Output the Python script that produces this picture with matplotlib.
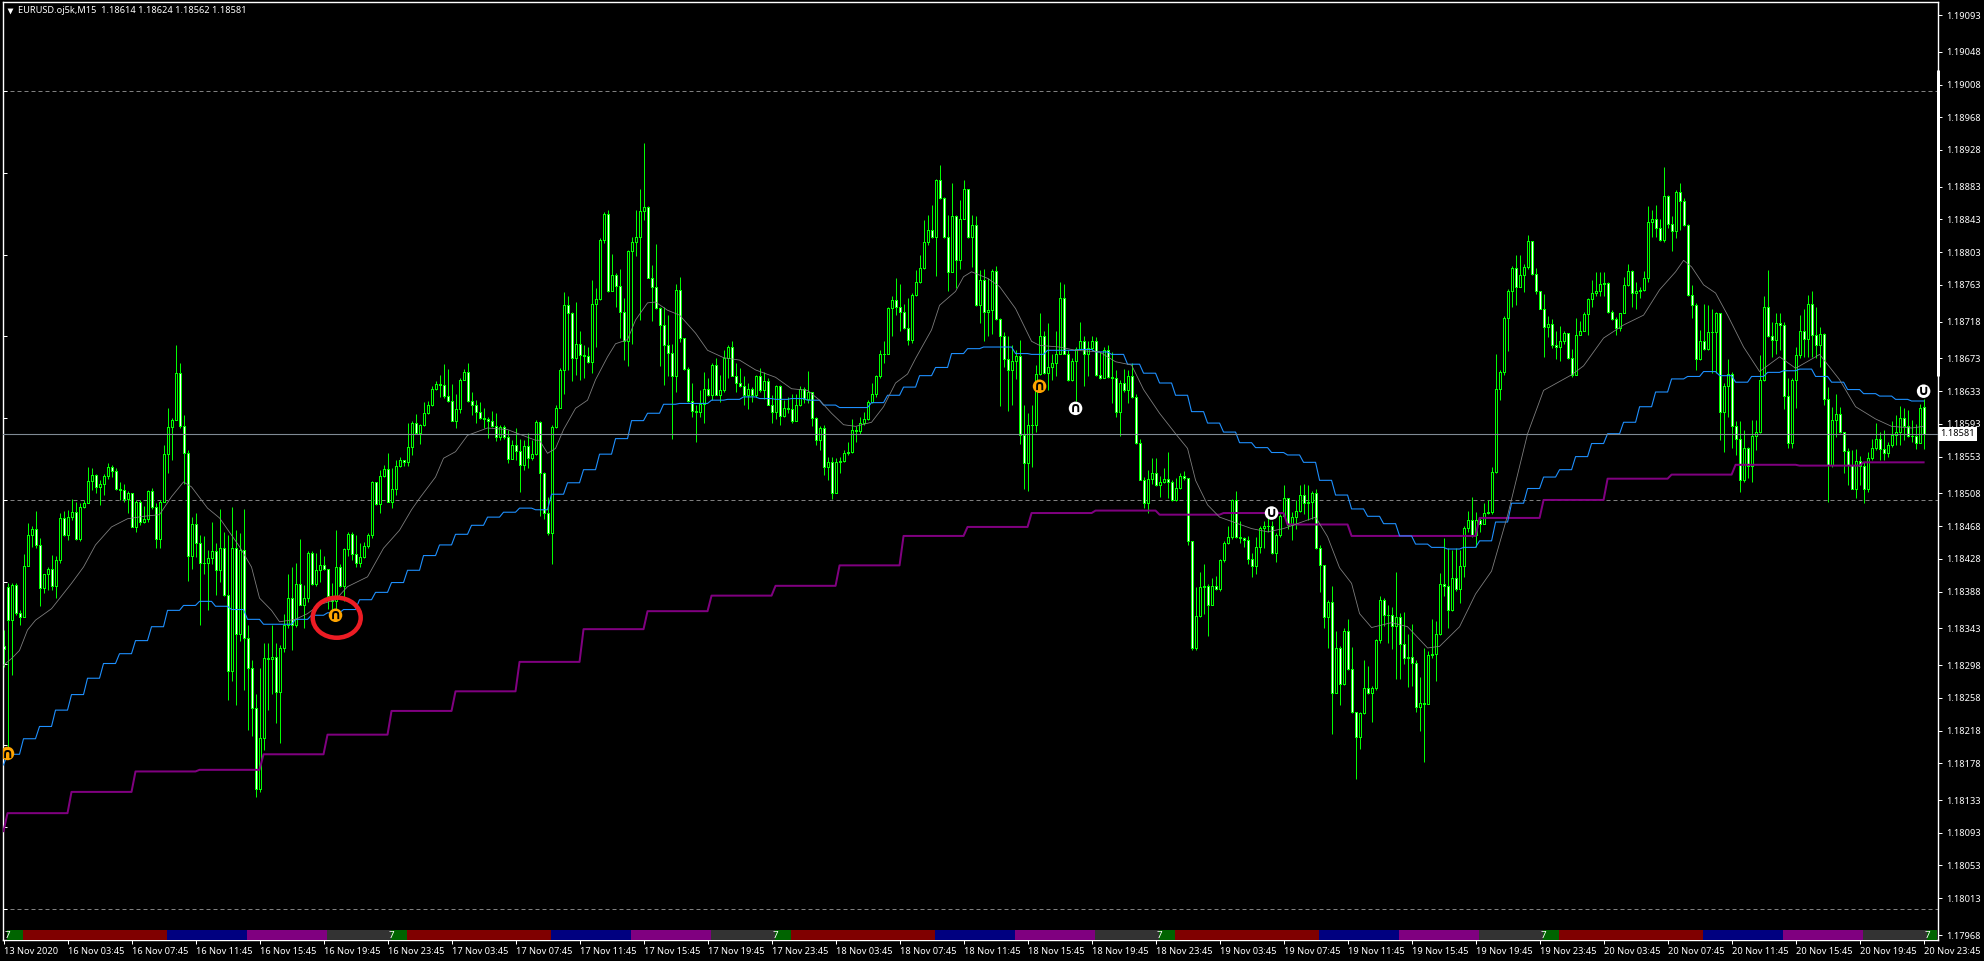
# plot.py - EURUSD M15 chart, values are points above 1.18000

import matplotlib
matplotlib.use("Agg")
import matplotlib.pyplot as plt
import numpy as np
from matplotlib.patches import Ellipse

opens = [
    322, 393, 353, 396, 362, 357, 419, 457, 465, 445,
    392, 409, 416, 395, 427, 478, 457, 479, 485, 452,
    491, 496, 523, 531, 516, 520, 529, 540, 535, 514,
    512, 501, 509, 467, 497, 473, 477, 511, 491, 452,
    497, 556, 589, 598, 655, 590, 558, 431, 471, 447,
    423, 423, 429, 438, 414, 441, 384, 291, 441, 336,
    439, 331, 294, 246, 147, 209, 307, 306, 308, 265,
    319, 347, 380, 347, 397, 371, 380, 435, 397, 414,
    421, 416, 383, 376, 418, 395, 440, 458, 434, 423,
    430, 444, 457, 522, 495, 529, 538, 498, 514, 542,
    549, 546, 565, 594, 582, 592, 606, 616, 636, 642,
    640, 627, 621, 597, 611, 647, 657, 621, 616, 607,
    600, 599, 596, 590, 577, 589, 577, 550, 567, 560,
    543, 566, 551, 556, 595, 533, 484, 460, 589, 613,
    659, 738, 728, 674, 691, 677, 676, 669, 740, 746,
    818, 850, 755, 775, 762, 730, 694, 804, 815, 821,
    853, 858, 772, 760, 735, 714, 689, 680, 652, 757,
    698, 660, 621, 609, 607, 617, 636, 628, 665, 628,
    634, 674, 687, 652, 643, 639, 628, 636, 628, 651,
    634, 645, 616, 607, 639, 603, 613, 611, 597, 616,
    636, 624, 632, 600, 573, 588, 540, 546, 509, 546,
    548, 557, 559, 586, 584, 594, 599, 620, 629, 651,
    678, 679, 735, 745, 736, 730, 710, 695, 751, 766,
    784, 815, 830, 821, 891, 869, 821, 779, 847, 793,
    844, 880, 821, 836, 738, 769, 730, 732, 780, 721,
    700, 672, 659, 670, 676, 580, 545, 592, 592, 654,
    701, 655, 662, 668, 679, 747, 678, 647, 670, 685,
    694, 679, 686, 694, 653, 649, 683, 650, 649, 608,
    643, 634, 651, 626, 570, 525, 496, 526, 533, 518,
    522, 526, 522, 500, 515, 529, 527, 450, 319, 358,
    394, 395, 371, 395, 391, 426, 447, 455, 500, 455,
    453, 451, 428, 419, 443, 466, 468, 468, 435, 457,
    480, 502, 469, 479, 486, 506, 496, 497, 508, 441,
    420, 357, 375, 264, 319, 275, 340, 293, 241, 210,
    240, 270, 264, 270, 329, 378, 359, 359, 346, 357,
    324, 307, 308, 301, 247, 252, 251, 310, 312, 336,
    397, 395, 366, 405, 391, 419, 466, 475, 457, 476,
    470, 484, 485, 534, 636, 656, 723, 755, 784, 761,
    775, 785, 817, 776, 755, 733, 711, 715, 689, 687,
    694, 704, 674, 653, 702, 707, 727, 746, 753, 756,
    764, 765, 730, 721, 710, 728, 763, 780, 753, 755,
    757, 771, 840, 844, 833, 818, 872, 838, 829, 877,
    865, 836, 751, 738, 672, 694, 684, 705, 705, 729,
    608, 639, 654, 590, 574, 524, 563, 541, 578, 583,
    647, 736, 700, 696, 716, 714, 627, 570, 647, 677,
    706, 697, 740, 702, 689, 703, 623, 543, 598, 605,
    583, 560, 543, 514, 548, 541, 513, 551, 563, 574,
    562, 557, 567, 580, 583, 600, 590, 578, 578, 570,
    614,
]
closes = [
    318, 353, 396, 362, 357, 419, 457, 465, 445, 392,
    409, 416, 395, 427, 478, 457, 479, 485, 452, 491,
    496, 523, 531, 516, 520, 529, 540, 535, 514, 512,
    501, 509, 467, 497, 473, 477, 511, 491, 452, 497,
    556, 589, 598, 655, 590, 558, 431, 471, 447, 423,
    423, 429, 438, 414, 441, 384, 291, 441, 336, 439,
    331, 294, 246, 147, 209, 307, 306, 308, 265, 319,
    347, 380, 347, 397, 371, 380, 435, 397, 414, 421,
    416, 383, 376, 418, 395, 440, 458, 434, 423, 430,
    444, 457, 522, 495, 529, 538, 498, 514, 542, 549,
    546, 565, 594, 582, 592, 606, 616, 636, 642, 640,
    627, 621, 597, 611, 647, 657, 621, 616, 607, 600,
    599, 596, 590, 577, 589, 577, 550, 567, 560, 543,
    566, 551, 556, 595, 533, 484, 460, 589, 613, 659,
    738, 728, 674, 691, 677, 676, 669, 740, 746, 818,
    850, 755, 775, 762, 730, 694, 804, 815, 821, 853,
    858, 772, 760, 735, 714, 689, 680, 652, 757, 698,
    660, 621, 609, 607, 617, 636, 628, 665, 628, 634,
    674, 687, 652, 643, 639, 628, 636, 628, 651, 634,
    645, 616, 607, 639, 603, 613, 611, 597, 616, 636,
    624, 632, 600, 573, 588, 540, 546, 509, 546, 548,
    557, 559, 586, 584, 594, 599, 620, 629, 651, 678,
    679, 735, 745, 736, 730, 710, 695, 751, 766, 784,
    815, 830, 821, 891, 869, 821, 779, 847, 793, 844,
    880, 821, 836, 738, 769, 730, 732, 780, 721, 700,
    672, 659, 670, 676, 580, 545, 592, 592, 654, 701,
    655, 662, 668, 679, 747, 678, 647, 670, 685, 694,
    679, 686, 694, 653, 649, 683, 650, 649, 608, 643,
    634, 651, 626, 570, 525, 496, 526, 533, 518, 522,
    526, 522, 500, 515, 529, 527, 450, 319, 358, 394,
    395, 371, 395, 391, 426, 447, 455, 500, 455, 453,
    451, 428, 419, 443, 466, 468, 468, 435, 457, 480,
    502, 469, 479, 486, 506, 496, 497, 508, 441, 420,
    357, 375, 264, 319, 275, 340, 293, 241, 210, 240,
    270, 264, 270, 329, 378, 359, 359, 346, 357, 324,
    307, 308, 301, 247, 252, 251, 310, 312, 336, 397,
    395, 366, 405, 391, 419, 466, 475, 457, 476, 470,
    484, 485, 534, 636, 656, 723, 755, 784, 761, 775,
    785, 817, 776, 755, 733, 711, 715, 689, 687, 694,
    704, 674, 653, 702, 707, 727, 746, 753, 756, 764,
    765, 730, 721, 710, 728, 763, 780, 753, 755, 757,
    771, 840, 844, 833, 818, 872, 838, 829, 877, 865,
    836, 751, 738, 672, 694, 684, 705, 705, 729, 608,
    639, 654, 590, 574, 524, 563, 541, 578, 583, 647,
    736, 700, 696, 716, 714, 627, 570, 647, 677, 706,
    697, 740, 702, 689, 703, 623, 543, 598, 605, 583,
    560, 543, 514, 548, 541, 513, 551, 563, 574, 562,
    557, 567, 580, 583, 600, 590, 578, 578, 570, 613,
    581,
]
highs = [
    341, 398, 398, 398, 365, 434, 472, 468, 487, 453,
    410, 418, 433, 431, 484, 487, 488, 501, 498, 496,
    500, 540, 539, 532, 524, 532, 545, 543, 539, 522,
    519, 511, 509, 500, 500, 492, 512, 515, 496, 500,
    567, 613, 600, 689, 667, 604, 561, 479, 484, 457,
    456, 439, 473, 447, 489, 461, 457, 491, 463, 459,
    489, 347, 304, 263, 294, 325, 325, 347, 325, 323,
    361, 409, 418, 423, 452, 396, 437, 437, 435, 440,
    431, 416, 398, 463, 422, 441, 461, 461, 457, 447,
    448, 459, 523, 522, 537, 543, 557, 539, 549, 553,
    549, 594, 596, 605, 593, 620, 621, 639, 645, 653,
    666, 660, 642, 630, 649, 660, 667, 632, 622, 620,
    612, 602, 609, 606, 592, 592, 586, 573, 588, 575,
    573, 582, 573, 598, 596, 534, 504, 592, 616, 661,
    754, 749, 730, 742, 706, 690, 687, 769, 759, 820,
    852, 855, 801, 777, 783, 747, 806, 822, 855, 880,
    936, 859, 787, 813, 736, 736, 726, 691, 764, 773,
    698, 662, 643, 616, 634, 656, 649, 667, 673, 653,
    683, 690, 694, 667, 661, 651, 643, 638, 653, 661,
    657, 649, 628, 641, 641, 622, 626, 630, 630, 639,
    638, 658, 624, 602, 591, 592, 553, 552, 551, 553,
    561, 571, 599, 590, 602, 608, 622, 643, 653, 683,
    694, 736, 750, 771, 764, 740, 747, 753, 781, 799,
    842, 848, 861, 892, 910, 871, 848, 887, 848, 867,
    891, 880, 848, 847, 781, 782, 771, 782, 786, 722,
    705, 700, 689, 683, 696, 616, 606, 616, 665, 728,
    706, 716, 679, 706, 767, 764, 683, 673, 687, 717,
    700, 694, 700, 699, 681, 687, 689, 681, 659, 647,
    660, 659, 667, 629, 575, 528, 537, 551, 551, 529,
    539, 559, 524, 527, 533, 535, 527, 448, 394, 412,
    422, 397, 405, 407, 428, 450, 468, 501, 511, 474,
    455, 456, 435, 455, 468, 474, 479, 474, 459, 483,
    518, 502, 485, 500, 518, 519, 518, 511, 513, 445,
    421, 378, 395, 340, 321, 344, 355, 320, 241, 241,
    304, 297, 273, 330, 382, 380, 371, 369, 412, 362,
    363, 336, 348, 304, 284, 319, 315, 355, 352, 411,
    454, 441, 439, 441, 439, 468, 487, 504, 485, 479,
    496, 500, 540, 678, 659, 725, 758, 786, 800, 799,
    788, 824, 813, 784, 756, 752, 725, 721, 706, 713,
    706, 695, 685, 723, 719, 730, 747, 769, 779, 779,
    779, 767, 732, 724, 729, 773, 788, 781, 767, 761,
    780, 859, 855, 861, 844, 907, 873, 847, 879, 888,
    869, 837, 763, 741, 708, 740, 738, 734, 730, 729,
    643, 672, 657, 596, 596, 586, 565, 598, 598, 677,
    749, 781, 718, 728, 729, 717, 649, 649, 687, 726,
    734, 751, 755, 736, 712, 704, 638, 614, 629, 614,
    581, 563, 561, 562, 554, 547, 559, 575, 594, 583,
    585, 571, 596, 604, 615, 612, 610, 598, 593, 617,
    624,
]
lows = [
    296, 198, 286, 359, 347, 361, 424, 443, 441, 370,
    386, 390, 390, 380, 423, 456, 451, 475, 451, 450,
    490, 496, 512, 508, 494, 506, 526, 528, 512, 500,
    498, 484, 467, 461, 469, 472, 473, 489, 441, 441,
    497, 533, 549, 598, 588, 520, 401, 416, 430, 347,
    410, 365, 422, 384, 400, 383, 255, 278, 249, 327,
    268, 219, 211, 137, 143, 194, 243, 263, 227, 203,
    314, 343, 316, 345, 371, 343, 375, 396, 395, 400,
    414, 367, 363, 365, 394, 376, 431, 426, 418, 418,
    429, 441, 454, 494, 484, 528, 497, 490, 506, 540,
    541, 541, 555, 581, 568, 591, 605, 615, 634, 626,
    625, 620, 596, 588, 606, 647, 620, 604, 594, 599,
    588, 576, 589, 572, 573, 575, 545, 550, 549, 510,
    537, 539, 549, 555, 480, 477, 457, 422, 588, 614,
    630, 659, 645, 653, 647, 649, 668, 655, 687, 744,
    814, 754, 755, 736, 698, 671, 664, 691, 798, 720,
    842, 771, 719, 734, 664, 641, 651, 575, 632, 693,
    659, 620, 602, 571, 602, 594, 627, 622, 628, 620,
    632, 649, 651, 632, 638, 616, 611, 620, 626, 632,
    624, 616, 594, 599, 592, 602, 606, 594, 601, 615,
    618, 618, 590, 567, 561, 530, 524, 501, 509, 533,
    547, 555, 557, 571, 581, 592, 598, 618, 626, 649,
    667, 679, 700, 726, 706, 709, 689, 692, 750, 765,
    782, 812, 820, 774, 868, 820, 755, 781, 759, 782,
    843, 820, 785, 737, 716, 694, 700, 703, 720, 615,
    663, 609, 616, 648, 569, 514, 511, 540, 583, 653,
    654, 634, 647, 651, 678, 678, 646, 645, 621, 683,
    639, 651, 683, 652, 648, 649, 649, 618, 601, 578,
    632, 618, 625, 569, 524, 490, 484, 520, 517, 504,
    521, 502, 499, 499, 514, 524, 445, 317, 317, 357,
    361, 334, 379, 390, 389, 424, 446, 452, 454, 447,
    442, 422, 406, 409, 435, 441, 461, 434, 424, 455,
    479, 464, 451, 464, 485, 483, 476, 477, 440, 387,
    344, 319, 214, 264, 249, 274, 292, 240, 159, 196,
    238, 263, 228, 268, 325, 346, 325, 318, 281, 281,
    300, 271, 272, 241, 218, 180, 251, 307, 279, 335,
    382, 344, 364, 389, 374, 406, 461, 455, 442, 461,
    470, 483, 483, 533, 622, 653, 682, 736, 738, 760,
    754, 782, 775, 752, 733, 675, 699, 686, 672, 670,
    691, 672, 650, 653, 702, 706, 702, 736, 749, 749,
    749, 729, 720, 702, 706, 728, 762, 736, 734, 747,
    755, 766, 821, 822, 817, 816, 832, 804, 820, 830,
    835, 750, 722, 659, 671, 683, 683, 655, 655, 573,
    559, 602, 563, 555, 510, 522, 527, 522, 561, 582,
    645, 699, 675, 679, 683, 611, 563, 563, 612, 674,
    675, 675, 675, 673, 663, 616, 497, 540, 577, 582,
    533, 518, 513, 502, 518, 496, 510, 549, 561, 549,
    549, 553, 565, 567, 567, 573, 577, 571, 562, 577,
    562,
]

# blue line: one value per hour (4 bars), purple line: one value per 4 hours (16 bars)
blue_first = 176
blue_hourly = [
    189, 208, 223, 243, 262, 282, 300, 312, 328, 345, 365, 371,
    376, 370, 366, 354, 348, 348, 354, 359, 362, 366, 378, 387, 399,
    414, 432, 445, 458, 469, 479, 485, 490, 488, 507, 521, 537, 556,
    575, 597, 606, 617, 618, 618, 622, 623, 626, 624, 623, 624,
    622, 616, 613, 613, 619, 628, 638, 652, 662, 679, 685, 687, 687,
    679, 678, 683, 683, 684, 681, 678, 666, 655, 643, 628, 608,
    594, 583, 570, 564, 558, 555, 546, 524, 506, 489, 480, 471, 456,
    446, 442, 440, 442, 450, 473, 496, 514, 528, 537, 553, 569,
    581, 595, 614, 632, 648, 651, 657, 652, 644, 651, 656, 658, 660,
    651, 644, 635, 630, 627, 623, 621,
]
purple_first = 95
purple_h4 = [
    117, 143, 168, 170, 189, 213, 242, 266, 302, 342, 364, 383, 395, 420, 456,
    467, 484, 487, 482, 484, 470, 456, 456, 478, 500, 526, 531, 543, 542, 546,
]

# grey moving average, read at the bars where it bends
grey_bars = [
    0, 2, 4, 6, 8, 12, 17, 20, 23, 27, 31, 35, 39, 42, 45, 47, 51, 54, 57, 59,
    62, 64, 67, 69, 73, 76, 79, 83, 86, 91, 95, 99, 102, 104, 108, 110, 113, 116,
    121, 126, 133, 134, 136, 138, 140, 143, 146, 148, 151, 153, 156, 158, 161, 163,
    166, 169, 173, 176, 180, 184, 188, 193, 197, 199, 201, 204, 207, 210, 213, 217,
    220, 223, 226, 228, 232, 234, 238, 240, 242, 246, 249, 253, 257, 259, 264, 268,
    274, 278, 282, 285, 289, 293, 296, 298, 301, 304, 308, 312, 316, 320, 324, 328,
    331, 334, 337, 339, 342, 347, 351, 356, 359, 364, 368, 372, 376, 381, 385, 392,
    395, 400, 405, 410, 414, 418, 420, 422, 425, 428, 431, 435, 439, 444, 448, 453,
    454, 459, 463, 468, 472, 477, 480,
]
grey_vals = [
    298, 306, 316, 341, 353, 367, 398, 418, 445, 467, 477, 480, 482, 504, 522, 516, 490, 478, 457, 443,
    418, 380, 365, 351, 354, 361, 372, 378, 394, 406, 441, 463, 488, 502, 528, 551, 559, 579,
    588, 586, 573, 573, 557, 563, 586, 612, 622, 647, 675, 691, 696, 720, 741, 742,
    732, 726, 704, 683, 674, 671, 659, 650, 636, 635, 634, 622, 606, 592, 590, 595,
    614, 643, 654, 673, 708, 738, 755, 773, 779, 771, 761, 734, 694, 689, 687, 683,
    681, 669, 665, 635, 606, 581, 563, 524, 494, 479, 472, 465, 461, 465, 472, 479,
    455, 417, 398, 361, 344, 350, 345, 319, 321, 345, 385, 413, 481, 581, 634, 653,
    664, 698, 714, 726, 757, 779, 793, 785, 763, 753, 726, 687, 657, 675, 661, 675,
    678, 647, 614, 599, 590, 588, 590,
]

# arrow icons: bar, value, colour, glyph
icon_bars = [1, 83, 259, 268, 317, 480]
icon_vals = [190, 359, 639, 612, 484, 633]
icon_colors = ["#FFA500", "#FFA500", "#FFA500", "#FFFFFF", "#FFFFFF", "#FFFFFF"]
icon_glyphs = ["∩", "∩", "∩", "∩", "∪", "∪"]

level_vals = [1000, 500, 0]
bid_val = 581
left_tick_vals = [1000, 900, 800, 700, 600, 500, 400, 300, 200, 100, 0]

y_tick_labels = [
    "1.19093", "1.19048", "1.19008", "1.18968", "1.18928", "1.18883", "1.18843",
    "1.18803", "1.18763", "1.18718", "1.18673", "1.18633", "1.18593", "1.18553",
    "1.18508", "1.18468", "1.18428", "1.18388", "1.18343", "1.18298", "1.18258",
    "1.18218", "1.18178", "1.18133", "1.18093", "1.18053", "1.18013", "1.17968",
]
x_tick_labels = [
    "13 Nov 2020",
    "16 Nov 03:45", "16 Nov 07:45", "16 Nov 11:45", "16 Nov 15:45", "16 Nov 19:45", "16 Nov 23:45",
    "17 Nov 03:45", "17 Nov 07:45", "17 Nov 11:45", "17 Nov 15:45", "17 Nov 19:45", "17 Nov 23:45",
    "18 Nov 03:45", "18 Nov 07:45", "18 Nov 11:45", "18 Nov 15:45", "18 Nov 19:45", "18 Nov 23:45",
    "19 Nov 03:45", "19 Nov 07:45", "19 Nov 11:45", "19 Nov 15:45", "19 Nov 19:45", "19 Nov 23:45",
    "20 Nov 03:45", "20 Nov 07:45", "20 Nov 11:45", "20 Nov 15:45", "20 Nov 19:45", "20 Nov 23:45",
]

# session strip along the bottom: block start bars, one entry per block
session_starts = [1, 5, 41, 61, 81, 97, 101, 137, 157, 177, 193, 197, 233, 253, 273, 289, 293, 329,
                  349, 369, 385, 389, 425, 445, 465, 481]
session_colors = ["#006400", "#800000", "#000080", "#800080", "#333333"] * 5 + ["#006400"]
session_mark_bars = [1, 97, 193, 289, 385, 481]

TITLE = "EURUSD.oj5k,M15  1.18614 1.18624 1.18562 1.18581"
FONT = "Noto Sans"
TEXT_SIZE = 6.65
BAR_PX = 4.0
PX = 0.72  # one pixel in points at dpi 100


def to_price(points):
    return 1.18 + np.asarray(points, dtype=float) / 1e5


def draw_candles(ax):
    x = np.arange(len(closes))
    o, c = to_price(opens), to_price(closes)
    ax.vlines(x, to_price(lows), to_price(highs), color="#00FF00", lw=PX, zorder=2)
    top = np.maximum(o, c)
    bot = np.minimum(o, c)
    fill = ["#FFFFFF" if close < open_ else "#000000" for open_, close in zip(opens, closes)]
    ax.bar(x, top - bot, bottom=bot, width=2 / BAR_PX, color=fill, edgecolor="#00FF00",
           linewidth=PX, zorder=2.5, antialiased=False)


def draw_indicators(ax):
    bars = np.arange(len(closes))
    blue = np.concatenate([[blue_first], np.repeat(blue_hourly, 4)])
    purple = np.concatenate([[purple_first], np.repeat(purple_h4, 16)])
    ax.plot(bars, to_price(purple), color="#800080", lw=2 * PX, zorder=3)
    ax.plot(bars, to_price(blue), color="#1E90FF", lw=1.1 * PX, zorder=3.1)
    ax.plot(grey_bars, to_price(grey_vals), color="#808080", lw=0.8 * PX, zorder=3.2)


def draw_icons(ax):
    for bar, val, color, glyph in zip(icon_bars, icon_vals, icon_colors, icon_glyphs):
        ax.scatter([bar], to_price([val]), s=95, color=color, edgecolor="none", zorder=5)
        ax.text(bar, to_price(val), glyph, color="#000000", fontsize=10, fontweight="bold",
                family="DejaVu Sans", ha="center", va="center", zorder=6)


def draw_sessions(ax):
    trans = ax.get_xaxis_transform()
    ends = session_starts[1:] + [ax.get_xlim()[1]]
    strip_h = 10 / 938
    for start, end, color in zip(session_starts, ends, session_colors):
        ax.axvspan(start - 0.125, end - 0.125, ymin=0, ymax=strip_h, color=color, lw=0, zorder=7)
    for bar in session_mark_bars:
        ax.text(bar, 0.0053, "7", color="#FFFFFF", fontsize=7, family=FONT,
                ha="center", va="center", transform=trans, zorder=8)


fig = plt.figure(figsize=(19.84, 9.61), dpi=100, facecolor="#000000")
ax = fig.add_axes([3 / 1984, 1 - 940 / 961, (1938 - 3) / 1984, (940 - 2) / 961], facecolor="#000000")

ax.set_xlim(-0.125, 483.6)
ax.set_ylim(1.18 - 38.1 / 1e5, 1.18 + 1108.9 / 1e5)

for level in level_vals:
    ax.axhline(to_price(level), color="#808080", lw=PX, dashes=(4, 3), zorder=1)
ax.axhline(to_price(bid_val), color="#7F8A94", lw=PX * 1.1, zorder=3.5)

draw_candles(ax)
draw_indicators(ax)
draw_icons(ax)
draw_sessions(ax)

# red hand-drawn circle round the first icon
ax.add_patch(Ellipse((83.3, to_price(356)), 12, 49 / 1e5, fill=False, edgecolor="#ED1C24",
                     lw=4.5 * PX, zorder=9))

for spine in ax.spines.values():
    spine.set_color("#FFFFFF")
    spine.set_linewidth(1.4 * PX)

ax.yaxis.tick_right()
ax.set_yticks([float(label) for label in y_tick_labels])
ax.set_yticklabels(y_tick_labels, family=FONT, fontsize=TEXT_SIZE, color="#FFFFFF")
ax.set_yticks(to_price(left_tick_vals), minor=True)
ax.tick_params(axis="y", which="major", right=True, left=False, direction="out", length=3, width=PX,
               color="#FFFFFF", pad=3)
ax.tick_params(axis="y", which="minor", left=True, right=False, direction="in", length=3, width=PX,
               color="#FFFFFF")

ax.set_xticks(np.arange(0, 481, 16))
ax.set_xticklabels(x_tick_labels, family=FONT, fontsize=TEXT_SIZE, color="#FFFFFF", ha="left")
ax.tick_params(axis="x", direction="out", length=3, width=PX, color="#FFFFFF", pad=2)

# thick part of the price scale edge
ax.plot([1, 1], to_price([1026, 651]), color="#FFFFFF", lw=3 * PX, clip_on=False,
        transform=ax.get_yaxis_transform(), zorder=10, solid_capstyle="butt")

# current price box on the scale
ax.text(1.0012, to_price(bid_val), "1.18581", color="#000000", fontsize=TEXT_SIZE, family=FONT,
        ha="left", va="center", transform=ax.get_yaxis_transform(), clip_on=False, zorder=11,
        bbox=dict(facecolor="#FFFFFF", edgecolor="none", pad=1.8))

# title and the small triangle left of it
fig.text(18 / 1984, 1 - 10.5 / 961, TITLE, color="#FFFFFF", fontsize=TEXT_SIZE, family=FONT, va="center")
ax.scatter([0.0034], [0.990], s=18, marker="v", color="#FFFFFF", linewidths=0,
           transform=ax.transAxes, zorder=10, clip_on=False)

fig.savefig("out.png", dpi=100, facecolor="#000000")
